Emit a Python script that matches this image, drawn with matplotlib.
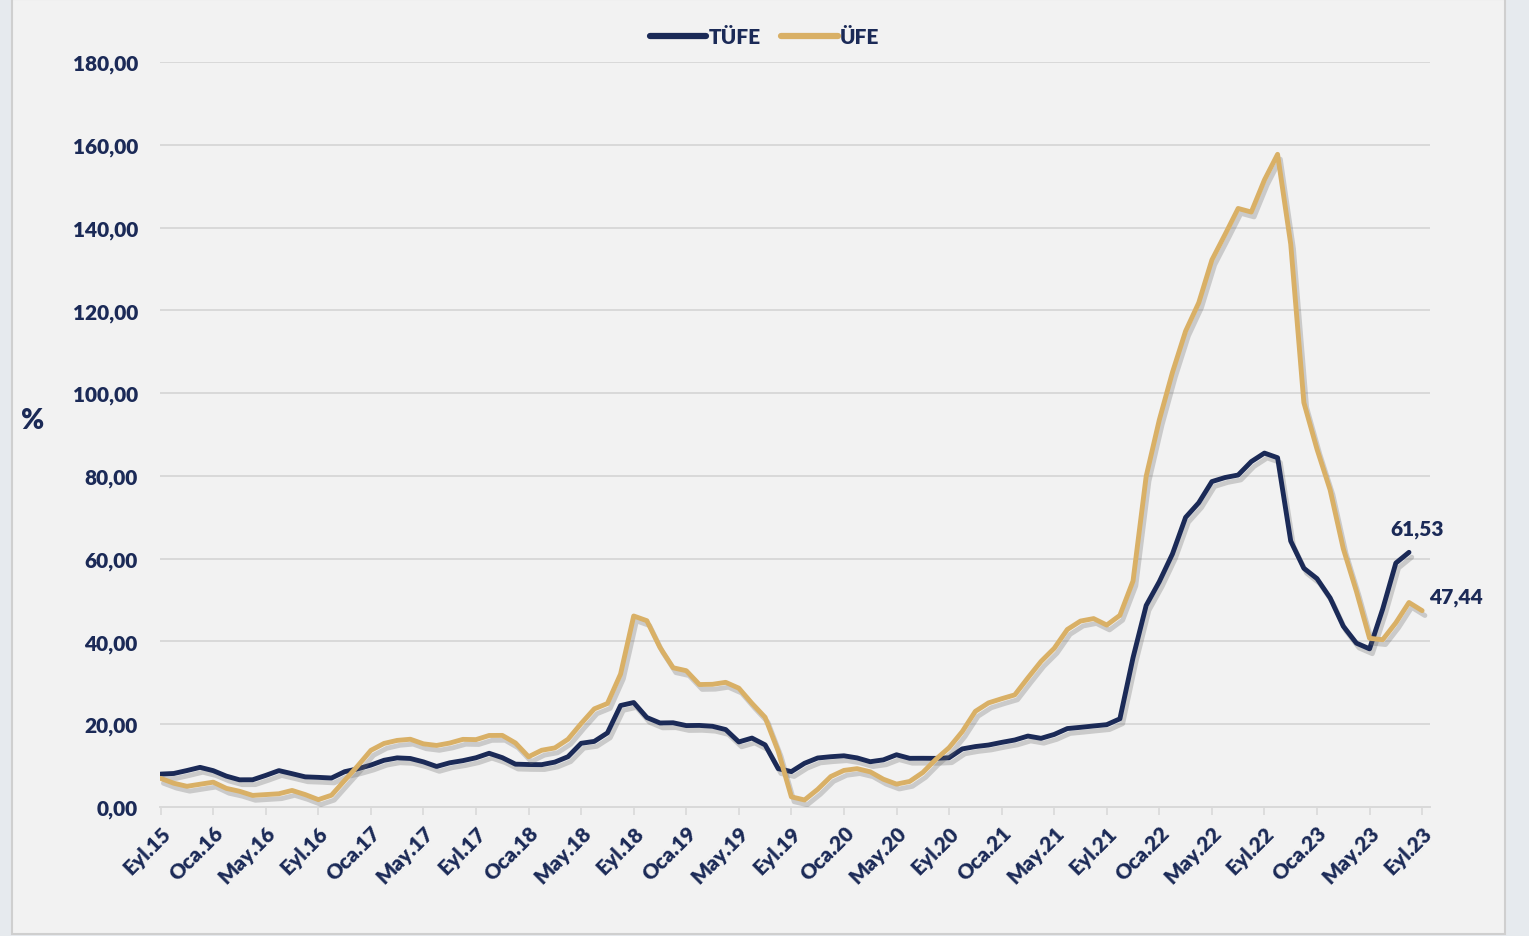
import matplotlib
matplotlib.use("Agg")
import matplotlib.pyplot as plt
import matplotlib.patheffects as pe
from matplotlib.patches import Rectangle

# months on the axis (Eyl.15 .. Eyl.23)
month_names = ['Oca', 'Şub', 'Mar', 'Nis', 'May', 'Haz', 'Tem', 'Ağu', 'Eyl', 'Eki', 'Kas', 'Ara']
months = []
for i in range(97):
    m = (8 + i) % 12
    y = 15 + (8 + i) // 12
    months.append(f"{month_names[m]}.{y}")

# annual change, %
tufe = [7.95, 8.10, 8.81,
        9.58, 8.78, 7.46, 6.57, 6.58, 7.64, 8.79, 8.05, 7.28, 7.16, 7.00, 8.53,
        9.22, 10.13, 11.29, 11.87, 11.72, 10.90, 9.79, 10.68, 11.20, 11.90, 12.98, 11.92,
        10.35, 10.26, 10.23, 10.85, 12.15, 15.39, 15.85, 17.90, 24.52, 25.24, 21.62, 20.30,
        20.35, 19.67, 19.71, 19.50, 18.71, 15.72, 16.65, 15.01, 9.26, 8.55, 10.56, 11.84,
        12.15, 12.37, 11.86, 10.94, 11.39, 12.62, 11.76, 11.77, 11.75, 11.89, 14.03, 14.60,
        14.97, 15.61, 16.19, 17.14, 16.59, 17.53, 18.95, 19.25, 19.58, 19.89, 21.31, 36.08,
        48.69, 54.44, 61.14, 69.97, 73.50, 78.62, 79.60, 80.21, 83.45, 85.51, 84.39, 64.27,
        57.68, 55.18, 50.51, 43.68, 39.59, 38.21, 47.83, 58.94, 61.53]

ufe = [6.92, 5.74, 5.00, 5.50,
       6.00, 4.50, 3.80, 2.80, 3.00, 3.20, 4.00, 3.00, 1.78, 2.84, 6.41, 9.94,
       13.69, 15.36, 16.09, 16.37, 15.26, 14.87, 15.45, 16.34, 16.28, 17.28, 17.30, 15.47,
       12.14, 13.71, 14.28, 16.37, 20.16, 23.71, 25.00, 32.13, 46.15, 45.01, 38.54, 33.64,
       32.93, 29.59, 29.64, 30.12, 28.71, 25.04, 21.66, 13.45, 2.45, 1.70, 4.26, 7.36,
       8.84, 9.26, 8.50, 6.71, 5.53, 6.17, 8.33, 11.53, 14.33, 18.20, 23.11, 25.15,
       26.16, 27.09, 31.20, 35.17, 38.33, 42.89, 44.92, 45.52, 43.96, 46.31, 54.62, 79.89,
       93.53, 105.01, 114.97, 121.82, 132.16, 138.31, 144.61, 143.75, 151.50, 157.69, 136.02, 97.72,
       86.46, 76.61, 62.43, 52.11, 40.76, 40.42, 44.50, 49.41, 47.44]

yticks = [0, 20, 40, 60, 80, 100, 120, 140, 160, 180]

navy = '#1b2a57'
gold = '#d9b066'
grid_c = '#d9d9d9'

plt.rcParams['font.family'] = ['Lato', 'DejaVu Sans']
plt.rcParams['font.weight'] = 'heavy'

fig = plt.figure(figsize=(15.29, 9.37), dpi=100)
fig.patch.set_facecolor('#e6eaee')
panel = Rectangle((12 / 1529, 0.002), (1505 - 12) / 1529, 0.998,
                  transform=fig.transFigure, facecolor='#f2f2f2',
                  edgecolor='#cfcfcf', linewidth=1.5, zorder=-10)
fig.patches.append(panel)

ax = fig.add_axes([160 / 1529, 1 - 808 / 937, (1430 - 160) / 1529, (808 - 63) / 937])
ax.set_facecolor('none')
ax.set_zorder(1)

shadow = [pe.SimpleLineShadow(offset=(2, -3.5), shadow_color='#6e6e6e', alpha=0.3),
          pe.Normal()]
ax.plot(range(len(tufe)), tufe, color=navy, lw=3.5, label='TÜFE',
        solid_joinstyle='round', solid_capstyle='round', path_effects=shadow, zorder=3)
ax.plot(range(len(ufe)), ufe, color=gold, lw=3.5, label='ÜFE',
        solid_joinstyle='round', solid_capstyle='round', path_effects=shadow, zorder=3)

ax.set_xlim(-0.05, 96.6)
ax.set_ylim(0, 180)
ax.set_yticks(yticks)
ax.set_yticklabels([f"{v:.2f}".replace('.', ',') for v in yticks])
ax.yaxis.grid(True, color=grid_c, lw=1.4)
ax.set_axisbelow(True)

ax.set_xticks(range(0, 97, 4))
ax.set_xticklabels(months[::4], rotation=45, ha='right', rotation_mode='anchor')

for s in ['top', 'right', 'left']:
    ax.spines[s].set_visible(False)
ax.spines['bottom'].set_color(grid_c)
ax.spines['bottom'].set_linewidth(1.4)

ax.tick_params(axis='y', length=0, pad=16, labelsize=15, labelcolor=navy)
ax.tick_params(axis='x', length=6, width=1.2, color=grid_c, pad=5,
               labelsize=15, labelcolor=navy)

ax.text(-0.1, 0.52, '%', transform=ax.transAxes, fontsize=20, color=navy,
        ha='center', va='center')

ax.annotate('61,53', (len(tufe) - 1, tufe[-1]), xytext=(6, 10), textcoords='offset points',
            ha='center', va='bottom', fontsize=15, color=navy)
ax.annotate('47,44', (len(ufe) - 1, ufe[-1]), xytext=(5, 3), textcoords='offset points',
            ha='left', va='bottom', fontsize=15, color=navy)

leg = fig.legend(loc='center', bbox_to_anchor=(0.5, 1 - 38 / 937), ncol=2, frameon=False,
                 handlelength=2.7, handletextpad=0.1, columnspacing=1.0,
                 prop={'size': 15, 'weight': 'heavy'})
for t in leg.get_texts():
    t.set_color(navy)
for h in leg.legend_handles:
    h.set_linewidth(4.5)
    h.set_path_effects([])

fig.savefig('out.png', dpi=100, facecolor=fig.get_facecolor())
